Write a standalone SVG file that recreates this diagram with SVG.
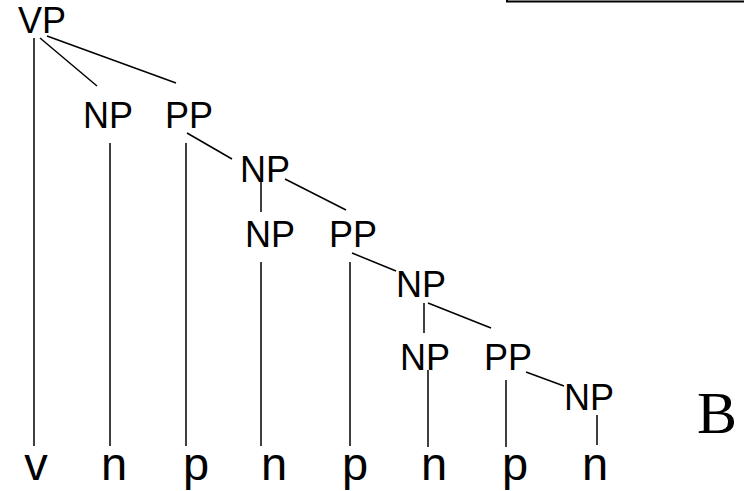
<svg xmlns="http://www.w3.org/2000/svg" width="744" height="491" viewBox="0 0 744 491">
<style>
.lbl{font-family:"Liberation Sans",Arial,sans-serif;font-size:36px;fill:#000}
.leaf{font-family:"Liberation Sans",Arial,sans-serif;font-size:47px;fill:#000;text-anchor:middle}
.edge{stroke:#000;stroke-width:1.5;fill:none}
</style>
<rect x="0" y="0" width="744" height="491" fill="#fff"/>
<rect x="507" y="-20" width="260" height="21.5" fill="none" stroke="#000" stroke-width="2"/>
<g id="connectors">
<line class="edge" x1="34" y1="38" x2="34" y2="446"/>
<line class="edge" x1="40" y1="38" x2="97" y2="86"/>
<line class="edge" x1="47" y1="36" x2="176" y2="83"/>
<line class="edge" x1="110" y1="143" x2="110" y2="446"/>
<line class="edge" x1="186" y1="143" x2="186" y2="446"/>
<line class="edge" x1="187" y1="133" x2="232" y2="159"/>
<line class="edge" x1="261" y1="182" x2="261" y2="212"/>
<line class="edge" x1="285" y1="179" x2="346" y2="210"/>
<line class="edge" x1="261" y1="262" x2="261" y2="446"/>
<line class="edge" x1="350" y1="262" x2="350" y2="446"/>
<line class="edge" x1="352" y1="253" x2="396" y2="271"/>
<line class="edge" x1="424" y1="303" x2="424" y2="333"/>
<line class="edge" x1="428" y1="303" x2="491" y2="328"/>
<line class="edge" x1="428" y1="370" x2="428" y2="447"/>
<line class="edge" x1="506" y1="380" x2="506" y2="447"/>
<line class="edge" x1="526" y1="372" x2="564" y2="386"/>
<line class="edge" x1="597" y1="415" x2="597" y2="445"/>
</g>
<g id="VP"><text class="lbl" x="18" y="33">VP</text></g>
<g id="NP1"><text class="lbl" x="83" y="128">NP</text></g>
<g id="PP1"><text class="lbl" x="165" y="128">PP</text></g>
<g id="NP2"><text class="lbl" x="240" y="182">NP</text></g>
<g id="NP3"><text class="lbl" x="245" y="247">NP</text></g>
<g id="PP2"><text class="lbl" x="329" y="247">PP</text></g>
<g id="NP4"><text class="lbl" x="396" y="297">NP</text></g>
<g id="NP5"><text class="lbl" x="400" y="370">NP</text></g>
<g id="PP3"><text class="lbl" x="484" y="370">PP</text></g>
<g id="NP6"><text class="lbl" x="564" y="410">NP</text></g>
<g id="leaf-v"><text class="leaf" x="36" y="480">v</text></g>
<g id="leaf-n1"><text class="leaf" x="114" y="480">n</text></g>
<g id="leaf-p1"><text class="leaf" x="196" y="480">p</text></g>
<g id="leaf-n2"><text class="leaf" x="274" y="480">n</text></g>
<g id="leaf-p2"><text class="leaf" x="355" y="480">p</text></g>
<g id="leaf-n3"><text class="leaf" x="434" y="480">n</text></g>
<g id="leaf-p3"><text class="leaf" x="515" y="480">p</text></g>
<g id="leaf-n4"><text class="leaf" x="595" y="480">n</text></g>
<g id="label-B"><text x="697" y="433" font-family="'Liberation Serif','Times New Roman',serif" font-size="60" fill="#000">B</text></g>
</svg>
